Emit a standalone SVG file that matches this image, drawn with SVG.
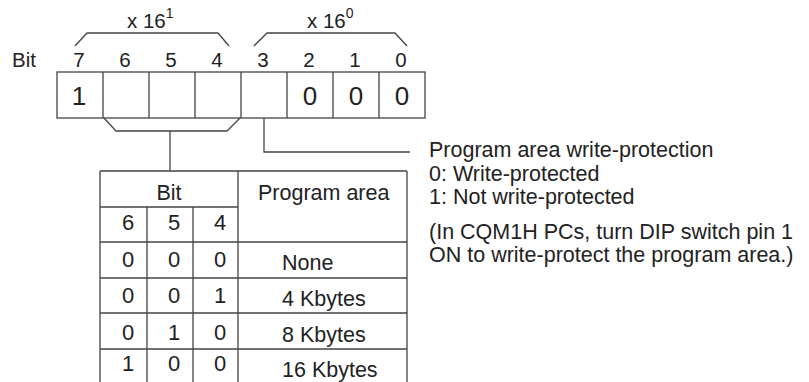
<svg xmlns="http://www.w3.org/2000/svg" width="809" height="382" viewBox="0 0 809 382">
<style>
text{font-family:"Liberation Sans",Arial,Helvetica,sans-serif;font-size:21.5px;fill:#222}
.m{text-anchor:middle}
.b{font-size:20.5px}
.r{font-size:26px}
.d{font-size:22px}
.sup{font-size:14px}
.ln{fill:none;stroke:#444;stroke-width:1.3}
</style>
<rect width="809" height="382" fill="#fff"/>
<g id="multipliers">
<text class="b" x="127" y="28">x 16<tspan class="sup" dy="-10">1</tspan></text>
<text class="b" x="307" y="28">x 16<tspan class="sup" dy="-10">0</tspan></text>
</g>
<g id="bit-labels">
<text class="b" x="12" y="67">Bit</text>
<text class="m b" x="79" y="67">7</text>
<text class="m b" x="125" y="67">6</text>
<text class="m b" x="171" y="67">5</text>
<text class="m b" x="217" y="67">4</text>
<text class="m b" x="263" y="67">3</text>
<text class="m b" x="309" y="67">2</text>
<text class="m b" x="355" y="67">1</text>
<text class="m b" x="401" y="67">0</text>
</g>
<g id="register">
<rect class="ln" x="57" y="72" width="368" height="46"/>
<path class="ln" d="M103 72V118M149 72V118M195 72V118M241 72V118M287 72V118M333 72V118M379 72V118"/>
<text class="m r" x="79" y="105">1</text>
<text class="m r" x="310" y="105">0</text>
<text class="m r" x="356" y="105">0</text>
<text class="m r" x="402" y="105">0</text>
</g>
<g id="connectors">
<path class="ln" d="M75 46L87 33H218L229 46"/>
<path class="ln" d="M254 46L267 33H395L407 46"/>
<path class="ln" d="M104 118L116 131H227L240 118"/>
<path class="ln" d="M170 131V171"/>
<path class="ln" d="M264 118V152H410"/>
</g>
<g id="protection-note">
<text x="429" y="157">Program area write-protection</text>
<text x="429" y="181">0: Write-protected</text>
<text x="429" y="204">1: Not write-protected</text>
<text x="429" y="239">(In CQM1H PCs, turn DIP switch pin 1</text>
<text x="429" y="262">ON to write-protect the program area.)</text>
</g>
<g id="table">
<path class="ln" d="M100 171H407M100 171V382M407 171V382M238 171V382M100 207H238M147 207V382M193 207V382M100 242H407M100 278H407M100 313H407M100 349H407"/>
<text class="m" x="169" y="200">Bit</text>
<text x="258" y="200">Program area</text>
<text class="m d" x="128" y="230">6</text>
<text class="m d" x="174" y="230">5</text>
<text class="m d" x="220" y="230">4</text>
<text class="m d" x="128" y="267">0</text>
<text class="m d" x="174" y="267">0</text>
<text class="m d" x="220" y="267">0</text>
<text x="282" y="270">None</text>
<text class="m d" x="128" y="303">0</text>
<text class="m d" x="174" y="303">0</text>
<text class="m d" x="220" y="303">1</text>
<text x="282" y="306">4 Kbytes</text>
<text class="m d" x="128" y="340">0</text>
<text class="m d" x="174" y="340">1</text>
<text class="m d" x="220" y="340">0</text>
<text x="282" y="342">8 Kbytes</text>
<text class="m d" x="128" y="371">1</text>
<text class="m d" x="174" y="371">0</text>
<text class="m d" x="220" y="371">0</text>
<text x="282" y="377">16 Kbytes</text>
</g>
</svg>
